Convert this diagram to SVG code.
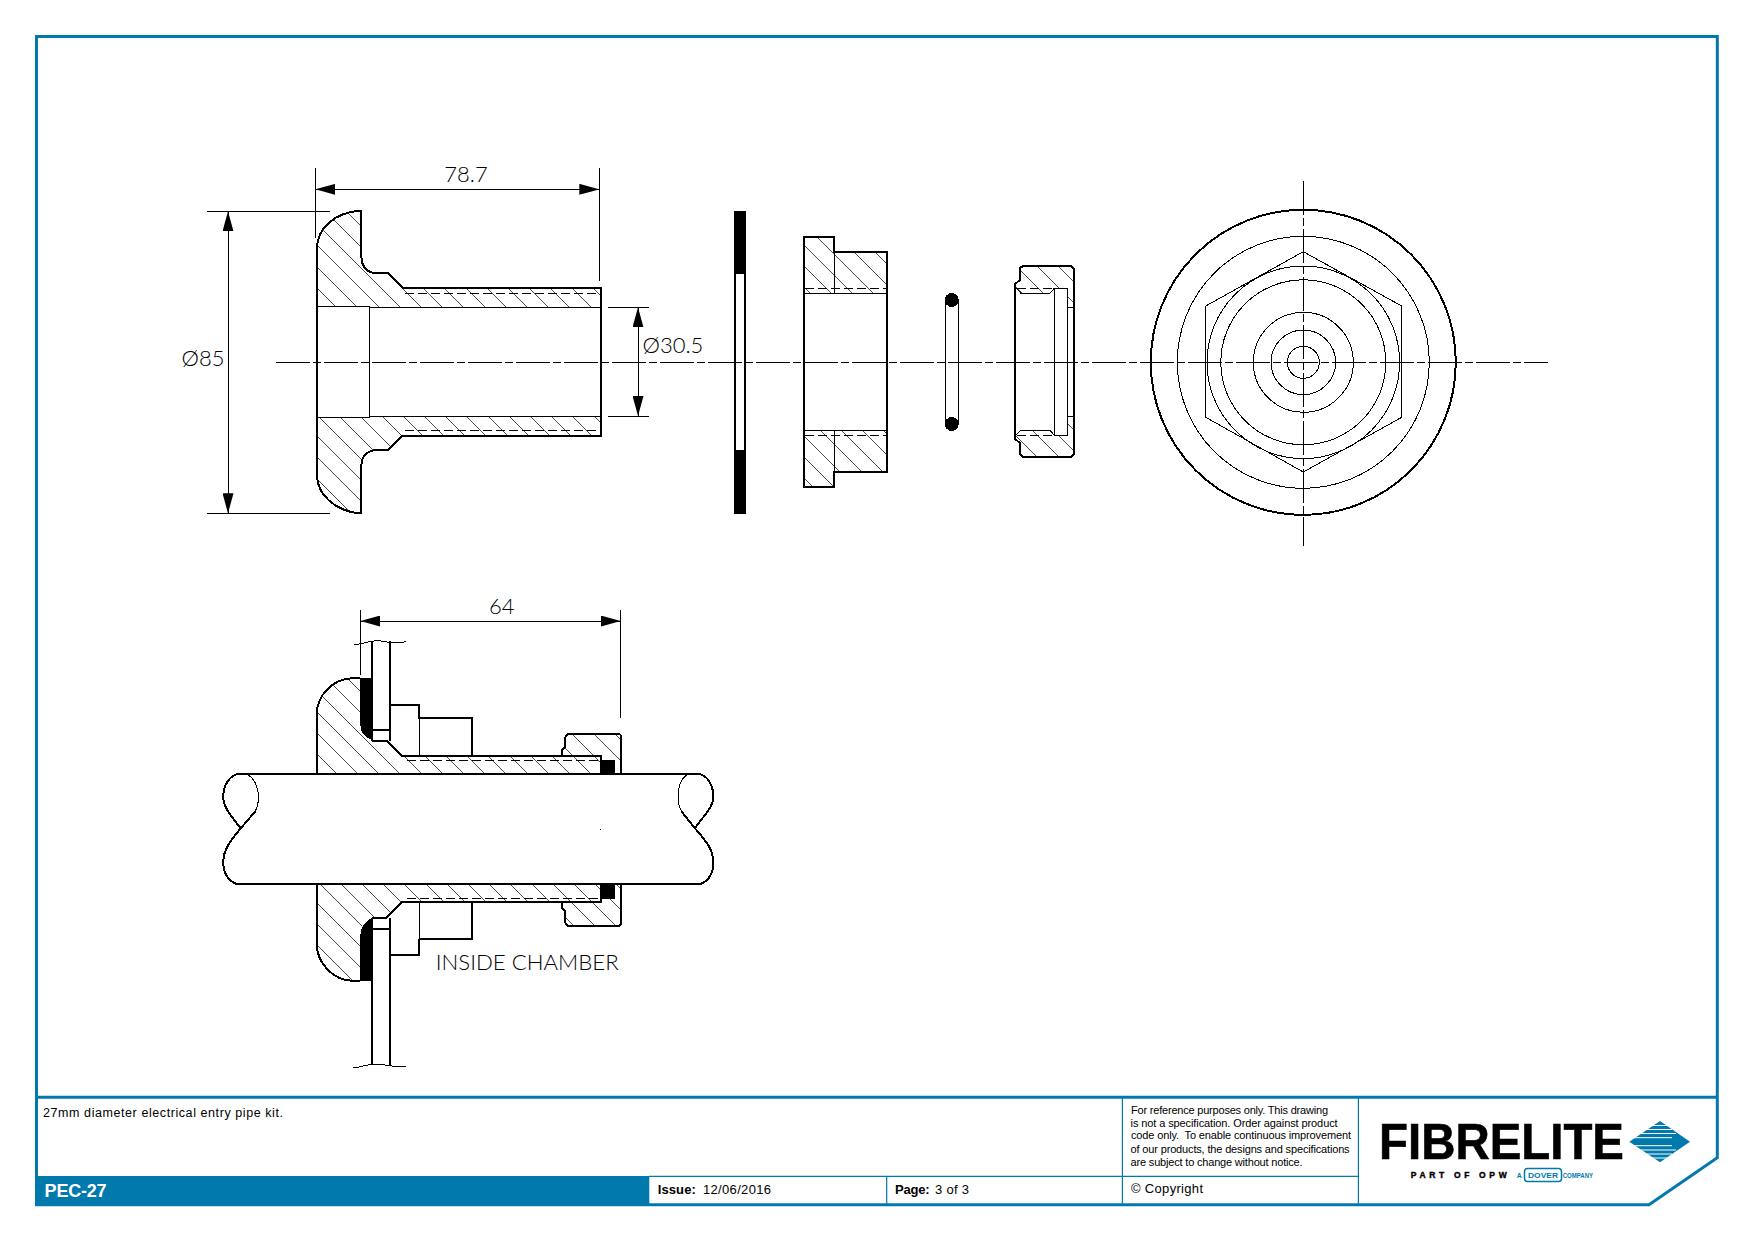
<svg xmlns="http://www.w3.org/2000/svg" xmlns:xlink="http://www.w3.org/1999/xlink" width="1754" height="1241" viewBox="0 0 1754 1241">
<style>
.g{shape-rendering:crispEdges}
.k{fill:none;stroke:#000;stroke-width:2;stroke-linejoin:round}
.kw{fill:#fff;stroke:#000;stroke-width:2;stroke-linejoin:round}
.t{fill:none;stroke:#000;stroke-width:1}
.d{fill:none;stroke:#000;stroke-width:1;stroke-dasharray:9 4}
.b{fill:#000;stroke:none}
.w{fill:#fff;stroke:none}
.cl{fill:none;stroke:#000;stroke-width:1.2;stroke-dasharray:34 3 8 3}
.dim{fill:none;stroke:#000;stroke-width:1;marker-start:url(#arrow);marker-end:url(#arrow)}
.h{fill:none;stroke:#000;stroke-width:.7}
.lab{font-family:"Lato","Liberation Sans",sans-serif;font-size:22px;font-weight:300;fill:#000}
.s{font-family:"Liberation Sans",Arial,sans-serif;fill:#000}
.bl{fill:none;stroke:#0279ac;stroke-width:1.2}
.fr{fill:none;stroke:#0279ac;stroke-width:3;stroke-linejoin:miter}
</style>
<defs>
<marker id="arrow" markerUnits="userSpaceOnUse" markerWidth="20" markerHeight="11" refX="20" refY="5.5" orient="auto-start-reverse"><path d="M0 0L20 5.5L0 11Z" fill="#000"/></marker>
<path id="hatch" class="h" d="M-491.6 200l790 790m-768.8-790l790 790m-768.8-790l790 790m-768.8-790l790 790m-768.8-790l790 790m-768.8-790l790 790m-768.8-790l790 790m-768.8-790l790 790m-768.8-790l790 790m-768.8-790l790 790m-768.8-790l790 790m-768.8-790l790 790m-768.8-790l790 790m-768.8-790l790 790m-768.8-790l790 790m-768.8-790l790 790m-768.8-790l790 790m-768.8-790l790 790m-768.8-790l790 790m-768.8-790l790 790m-768.8-790l790 790m-768.8-790l790 790m-768.8-790l790 790m-768.8-790l790 790m-768.8-790l790 790m-768.8-790l790 790m-768.8-790l790 790m-768.8-790l790 790m-768.8-790l790 790m-768.8-790l790 790m-768.8-790l790 790m-768.8-790l790 790m-768.8-790l790 790m-768.8-790l790 790m-768.8-790l790 790m-768.8-790l790 790m-768.8-790l790 790m-768.8-790l790 790m-768.8-790l790 790m-768.8-790l790 790m-768.8-790l790 790m-768.8-790l790 790m-768.8-790l790 790m-768.8-790l790 790m-768.8-790l790 790m-768.8-790l790 790m-768.8-790l790 790m-768.8-790l790 790m-768.8-790l790 790m-768.8-790l790 790m-768.8-790l790 790m-768.8-790l790 790m-768.8-790l790 790m-768.8-790l790 790m-768.8-790l790 790m-768.8-790l790 790m-768.8-790l790 790m-768.8-790l790 790m-768.8-790l790 790m-768.8-790l790 790m-768.8-790l790 790m-768.8-790l790 790m-768.8-790l790 790m-768.8-790l790 790m-768.8-790l790 790m-768.8-790l790 790m-768.8-790l790 790m-768.8-790l790 790m-768.8-790l790 790m-768.8-790l790 790m-768.8-790l790 790m-768.8-790l790 790m-768.8-790l790 790"/>
<clipPath id="cFitting"><path d="M361.4 210.7V256.7C361.4 266 367 273.3 377 273.3H388L403 288.3H601.4V307.3H369V306H317V248.3C317 228 335 212 361.4 210.7Z"/><path d="M317 417H369V416H601.4V436H402L388 450H378C368 450 361.4 456 361.4 465V513.3H358C335 510 317 495 317 475Z"/></clipPath>
<clipPath id="cBush"><path d="M804 236.7H834V251.7H887V293.3H804Z"/><path d="M804 430.3H887V471.7H834V487H804Z"/></clipPath>
<clipPath id="cNut"><path d="M1020 268L1023 266H1071L1074 269V307.3H1067.3V288.3H1054.3L1050 293.3H1020L1015 288V283L1020 280Z"/><path d="M1015 435L1020 430.3H1050L1054.3 435.3H1067.3V416.3H1074V454L1071 457.3H1023L1020 454V443L1015 439Z"/></clipPath>
<clipPath id="cAsmF"><path d="M316.7 774.3V715C316.7 695 333 679 351.7 678.3H360.3V725C360.3 732 365 739 372 741H386.7L401.7 755.7H601V774.3Z"/><path d="M316.7 883.7V943.3C316.7 963 333 980 351.7 980.7H360.3V935C360.3 927 365 920 372 917.7H386.7L401.7 902.3H601V883.7Z"/></clipPath>
<clipPath id="cAsmN"><path d="M561.7 755.7V750L565 747V740Q565 734 570 734H618Q621 734 621 737V774.3H614V760H601V755.7Z"/><path d="M561.7 902.3V908L565 911V920Q565 926 570 926H618Q621 926 621 923V883.7H614V898.3H601V902.3Z"/></clipPath>
</defs>
<rect width="1754" height="1241" fill="#fff"/>

<g id="fitting" class="g">
<path class="w" d="M361.4 210.7V256.7C361.4 266 367 273.3 377 273.3H388L403 288.3H601.4V436H402L388 450H378C368 450 361.4 456 361.4 465V513.3H358C335 510 317 495 317 475V248.3C317 228 335 212 361.4 210.7Z"/>
<use xlink:href="#hatch" href="#hatch" clip-path="url(#cFitting)"/>
<path class="t" d="M317 306H369V417H317M369 307.3H601M369 416H601"/>
<path class="d" d="M405 293.3H601M405 430.7H601"/>
<path class="k" d="M361.4 210.7V256.7C361.4 266 367 273.3 377 273.3H388L403 288.3H601.4V436H402L388 450H378C368 450 361.4 456 361.4 465V513.3H358C335 510 317 495 317 475V248.3C317 228 335 212 361.4 210.7Z"/>
</g>

<g id="washer" class="g">
<rect class="b" x="734" y="211" width="11.7" height="62.7"/>
<rect class="b" x="734" y="450" width="11.7" height="63.7"/>
<path class="k" d="M735 273V451M745 273V451" style="stroke-width:1.4"/>
</g>

<g id="bush" class="g">
<use xlink:href="#hatch" href="#hatch" clip-path="url(#cBush)"/>
<path class="t" d="M804 293.3H887M804 430.3H887M834 251.7V293.3M834 430.3V471.7"/>
<path class="d" d="M805 288.3H887M805 435.3H887"/>
<path class="k" d="M804 236.7H834V251.7H887V471.7H834V487H804Z"/>
</g>

<g id="o-ring" class="g">
<path class="t" d="M945.7 300V424M958.3 300V424"/>
<circle class="b" cx="951.7" cy="300" r="7"/>
<circle class="b" cx="951.7" cy="424" r="7"/>
</g>

<g id="nut" class="g">
<use xlink:href="#hatch" href="#hatch" clip-path="url(#cNut)"/>
<path class="t" d="M1016 288L1021 293.3H1050L1054.3 288.3M1016 435L1021 430.3H1050L1054.3 435.3M1054.3 288.3H1067.3V435.3H1054.3ZM1067.3 307.3H1074M1067.3 416.3H1074"/>
<path class="d" d="M1017 288.3H1054M1017 435.3H1054"/>
<path class="k" d="M1020 268L1023 266H1071L1074 269V454L1071 457.3H1023L1020 454V443L1015 439V284L1020 280Z"/>
</g>

<g id="end-view" class="g">
<circle class="k" cx="1303.3" cy="362.3" r="152.5"/>
<circle class="t" cx="1303.3" cy="362.3" r="126"/>
<circle class="t" cx="1303.3" cy="362.3" r="96.3"/>
<circle class="t" cx="1303.3" cy="362.3" r="82.5"/>
<circle class="t" cx="1303.3" cy="362.3" r="50"/>
<circle class="t" cx="1303.3" cy="362.3" r="32.3"/>
<circle class="t" cx="1303.3" cy="362.3" r="16"/>
<path class="t" d="M1303.3 251.7L1401.7 306V417.3L1303.3 472L1205.7 417.3V306Z"/>
</g>

<g id="assembly-fitting" class="g">
<path class="b" d="M360.3 677.7H372V740C365 738 360.3 732 360.3 725Z"/>
<path class="b" d="M360.3 980.7H372V918C365 921 360.3 927 360.3 935Z"/>
<use xlink:href="#hatch" href="#hatch" clip-path="url(#cAsmF)"/>
<use xlink:href="#hatch" href="#hatch" clip-path="url(#cAsmN)"/>
<path class="d" d="M406.7 760H601M406.7 898.3H601"/>
<path class="t" d="M419.3 718.3V755.7M419.3 902.3V939.3M601 760H614V774M601 898.3H614V884"/>
<rect class="b" x="601.5" y="760" width="12.5" height="14.3"/>
<rect class="b" x="601.5" y="884" width="12.5" height="14.3"/>
<path class="k" d="M316.7 774.3V715C316.7 695 333 679 351.7 678.3H360.3M372 741H386.7L401.7 755.7H601V774.3"/>
<path class="k" d="M316.7 883.7V943.3C316.7 963 333 980 351.7 980.7H360.3M372 917.7H386.7L401.7 902.3H601V883.7"/>
<path class="k" d="M561.7 755.7V750L565 747V740Q565 734 570 734H618Q621 734 621 737V774.3"/>
<path class="k" d="M561.7 902.3V908L565 911V920Q565 926 570 926H618Q621 926 621 923V883.7"/>
<path class="k" d="M390 705H419.3V718.3H472.3V755.7M390 955H419.3V939.3H472.3V902.3"/>
</g>

<g id="wall" class="g">
<path class="k" d="M372 641V741M390 641V741M372 730H390"/>
<path class="k" d="M372 918V1065M390 918V1065M372 929H390"/>
<path class="t" d="M354 645C362 644 368 641 378 640.7C386 641 392 645 406 641.7"/>
<path class="t" d="M353.3 1068C362 1067 368 1064 376.7 1064C386 1064 392 1068 406 1066"/>
</g>

<g id="pipe" class="g">
<path class="kw" d="M236.7 774.3H700.7C708 777 713.3 785 713.3 797C713.3 808 703 816 695 828.3C703 838 713.3 848 713.3 862C713.3 874 708 881 700.7 884H236.7C229 881 223.3 874 223.3 862C223.3 848 233 838 240.7 828.3C233 818 223.3 808 223.3 797C223.3 785 229 777 236.7 774.3Z"/>
<path class="k" d="M255 811.7L240.7 828.3M681.7 811.7L695 828.3"/>
<path class="t" d="M248.3 775C256 780 258.5 790 258.5 797C258.5 803 257 808 255 811.7M686.7 775C680 780 678 790 678 797C678 803 679.5 808 681.7 811.7"/>
<rect class="b" x="600" y="829" width="1" height="1"/>
</g>

<g id="connectors" class="g">
<path class="cl" d="M276 362.3H1548"/>
<path class="cl" d="M1303.3 181V545.7"/>
<path class="t" d="M315.4 168V238M599.3 168V280.7M207 211.3H330M207 513.3H330M607.5 307.3H648.6M607.5 416H648.6M360.3 610V675M620.7 610V717.7"/>
<line class="dim" x1="315.4" y1="189.3" x2="599.3" y2="189.3"/>
<line class="dim" x1="228" y1="211.3" x2="228" y2="513.3"/>
<line class="dim" x1="638" y1="307.3" x2="638" y2="416"/>
<line class="dim" x1="360.3" y1="621" x2="620.7" y2="621"/>
</g>

<g id="labels">
<text class="lab" x="466" y="181.7" text-anchor="middle">78.7</text>
<text class="lab" x="181.5" y="366">Ø85</text>
<text class="lab" x="642.5" y="352.5">Ø30.5</text>
<text class="lab" x="501.7" y="613.8" text-anchor="middle">64</text>
<text class="lab" x="435.7" y="969.5" textLength="183" lengthAdjust="spacingAndGlyphs">INSIDE CHAMBER</text>
</g>

<g id="title-block">
<rect x="36" y="1176" width="613.3" height="29" fill="#0279ac"/>
<path class="fr" d="M36.5 36.5H1717.3V1157.7L1649 1204.7H36.5Z"/>
<path class="fr" d="M36.5 1097.3H1717.3"/>
<path class="bl" d="M649 1176.3H1358.4M1122.4 1097V1205M1358.4 1097V1205M886.7 1176.3V1205"/>
<text class="s" x="43" y="1117" font-size="12.5" textLength="240">27mm diameter electrical entry pipe kit.</text>
<text class="s" x="44.6" y="1196.7" font-size="18" font-weight="bold" style="fill:#fff" textLength="62">PEC-27</text>
<text class="s" x="657.8" y="1194.3" font-size="13" font-weight="bold" textLength="38">Issue:</text>
<text class="s" x="703" y="1194.3" font-size="13" textLength="68">12/06/2016</text>
<text class="s" x="895" y="1194.3" font-size="13" font-weight="bold" textLength="34.7">Page:</text>
<text class="s" x="935" y="1194.3" font-size="13" textLength="34">3 of 3</text>
<text class="s" x="1131" y="1114" font-size="11" textLength="197">For reference purposes only. This drawing</text>
<text class="s" x="1130.6" y="1126.7" font-size="11" textLength="207">is not a specification. Order against product</text>
<text class="s" x="1131" y="1139.3" font-size="11" textLength="220">code only.&#160; To enable continuous improvement</text>
<text class="s" x="1130.6" y="1152.7" font-size="11" textLength="219">of our products, the designs and specifications</text>
<text class="s" x="1130.6" y="1165.7" font-size="11" textLength="172">are subject to change without notice.</text>
<text class="s" x="1131" y="1193.3" font-size="13" textLength="72">© Copyright</text>
</g>

<g id="logo">
<text class="s" x="1379" y="1159.3" font-size="50" font-weight="bold" textLength="245" lengthAdjust="spacingAndGlyphs" stroke="#000" stroke-width=".6">FIBRELITE</text>
<path d="M1629.3 1141.7L1660 1121L1690 1141.7L1660 1162.3Z" fill="#0279ac"/>
<path d="M1640 1125.5H1668M1634 1129.5H1672M1630 1133.5H1676M1626 1137.7H1672M1626 1145.7H1672M1630 1150H1676M1634 1154H1672M1640 1158H1668" fill="none" stroke="#fff" stroke-width="1"/>
<text class="s" x="1410.7" y="1178" font-size="8.5" font-weight="bold" textLength="96" stroke="#000" stroke-width=".4">PART OF OPW</text>
<text class="s" x="1516.7" y="1178" font-size="7" font-weight="bold" style="fill:#0279ac">A</text>
<rect x="1524.5" y="1168.5" width="37" height="13" rx="3" fill="none" stroke="#0279ac" stroke-width="1.5"/>
<text class="s" x="1528" y="1178" font-size="8" font-weight="bold" style="fill:#0279ac" textLength="30" lengthAdjust="spacingAndGlyphs">DOVER</text>
<text class="s" x="1562.7" y="1178" font-size="7" font-weight="bold" style="fill:#0279ac" textLength="30.3" lengthAdjust="spacingAndGlyphs">COMPANY</text>
</g>
</svg>
